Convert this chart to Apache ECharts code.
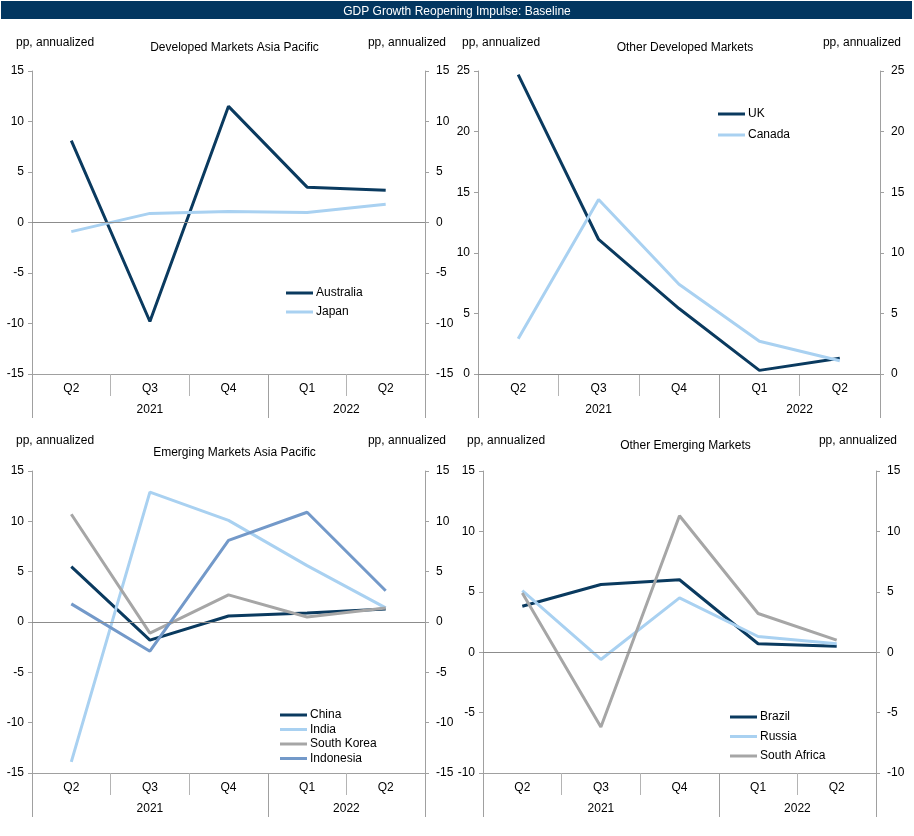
<!DOCTYPE html>
<html>
<head>
<meta charset="utf-8">
<title>GDP Growth Reopening Impulse: Baseline</title>
<script src="https://cdn.jsdelivr.net/npm/echarts@6/dist/echarts.min.js"></script>
<style>
    html, body { margin: 0; padding: 0; background: #fff; }
    #main { width: 914px; height: 836px; }
</style>
</head>
<body>
<div id="main"></div>
<script>
// x axis: quarters and the years they belong to
var quarters = ['Q2', 'Q3', 'Q4', 'Q1', 'Q2'];
var years = ['2021', '2022'];
var quartersPerYear = [3, 2];

// Developed Markets Asia Pacific
var australia = [8.1, -9.8, 11.5, 3.5, 3.2];
var japan = [-0.9, 0.9, 1.1, 1.0, 1.8];
var dmapRange = [-15, 15];

// Other Developed Markets
var uk = [24.7, 11.1, 5.4, 0.3, 1.3];
var canada = [2.9, 14.4, 7.4, 2.7, 1.1];
var odmRange = [0, 25];

// Emerging Markets Asia Pacific
var china = [5.5, -1.8, 0.6, 0.9, 1.3];
var india = [-13.9, 12.9, 10.1, 5.6, 1.4];
var southKorea = [10.7, -1.1, 2.7, 0.5, 1.4];
var indonesia = [1.8, -2.9, 8.1, 10.9, 3.1];
var emapRange = [-15, 15];

// Other Emerging Markets
var brazil = [3.8, 5.6, 6.0, 0.7, 0.5];
var russia = [5.1, -0.6, 4.5, 1.3, 0.7];
var southAfrica = [4.9, -6.2, 11.3, 3.2, 1.0];
var oemRange = [-10, 15];

var yStep = 5;

var navy = '#0a3a5f',
    lightBlue = '#a9d1f1',
    grey = '#a6a6a6',
    midBlue = '#7399c9',
    axisGrey = '#a0a0a0',
    font = "'Liberation Sans', Arial, sans-serif";

// year label positions (middle of each year) and year separators
var yearBounds = [0], yearMids = [];
(function () {
    var start = 0;
    for (var k = 0; k < quartersPerYear.length; k++) {
        yearMids.push(start + quartersPerYear[k] / 2);
        start += quartersPerYear[k];
        yearBounds.push(start);
    }
})();

var panels = [
    {
        title: 'Developed Markets Asia Pacific',
        grid: { left: 32, top: 71, width: 393, height: 303 },
        range: dmapRange,
        series: [['Australia', australia, navy], ['Japan', japan, lightBlue]],
        legend: { left: 286, top: 286, itemGap: 5 }
    },
    {
        title: 'Other Developed Markets',
        grid: { left: 478, top: 71, width: 402, height: 303 },
        range: odmRange,
        series: [['UK', uk, navy], ['Canada', canada, lightBlue]],
        legend: { left: 718, top: 107, itemGap: 7 }
    },
    {
        title: 'Emerging Markets Asia Pacific',
        grid: { left: 32, top: 471, width: 393, height: 302 },
        range: emapRange,
        series: [['China', china, navy], ['India', india, lightBlue],
                 ['South Korea', southKorea, grey], ['Indonesia', indonesia, midBlue]],
        legend: { left: 280, top: 708, itemGap: 0.5 }
    },
    {
        title: 'Other Emerging Markets',
        grid: { left: 483, top: 471, width: 393, height: 302 },
        range: oemRange,
        series: [['Brazil', brazil, navy], ['Russia', russia, lightBlue],
                 ['South Africa', southAfrica, grey]],
        legend: { left: 730, top: 710, itemGap: 5.5 }
    }
];

function textTitle(text, x, y, align, color) {
    return {
        text: text,
        left: x,
        top: y,
        padding: 0,
        textAlign: align,
        textStyle: { fontSize: 12, fontWeight: 'normal', color: color || '#000', fontFamily: font }
    };
}

function yAxisFor(gridIndex, range, side) {
    return {
        type: 'value',
        gridIndex: gridIndex,
        position: side,
        min: range[0],
        max: range[1],
        interval: yStep,
        axisLine: { show: true, onZero: false, lineStyle: { color: axisGrey, width: 1 } },
        axisTick: { show: true, inside: false, length: 4, lineStyle: { color: axisGrey } },
        axisLabel: { color: '#000', fontSize: 12, fontFamily: font, margin: side === 'left' ? 8 : 11 },
        splitLine: { show: false }
    };
}

var option = {
    animation: false,
    textStyle: { fontFamily: font },
    title: [textTitle('GDP Growth Reopening Impulse: Baseline', 457, 6, 'center', '#fff')],
    graphic: [{
        type: 'rect',
        z: -1,
        shape: { x: 1, y: 1, width: 911, height: 18 },
        style: { fill: '#023660' }
    }],
    grid: [],
    xAxis: [],
    yAxis: [],
    legend: [],
    series: []
};

panels.forEach(function (p, i) {
    var g = p.grid;
    var rowTop = i < 2 ? 37 : 435;
    var subTop = [42, 42, 447, 440][i];

    option.grid.push({ left: g.left, top: g.top, width: g.width, height: g.height });

    // subtitle and axis units
    option.title.push(textTitle(p.title, g.left + g.width / 2 + 6, subTop, 'center'));
    option.title.push(textTitle('pp, annualized', g.left - 16, rowTop, 'left'));
    option.title.push(textTitle('pp, annualized', g.left + g.width + 21, rowTop, 'right'));

    // quarters
    option.xAxis.push({
        type: 'category',
        gridIndex: i,
        data: quarters,
        position: 'bottom',
        boundaryGap: true,
        axisLine: { show: true, onZero: false, lineStyle: { color: axisGrey, width: 1 } },
        axisTick: { show: true, interval: 0, length: 22, lineStyle: { color: '#b4b4b4', width: 1 } },
        axisLabel: { color: '#000', fontSize: 12, fontFamily: font, margin: 9, interval: 0 },
        splitLine: { show: false }
    });
    // years
    option.xAxis.push({
        type: 'value',
        gridIndex: i,
        position: 'bottom',
        min: 0,
        max: quarters.length,
        axisLine: { show: false, onZero: false },
        axisTick: { show: true, length: 44, customValues: yearBounds, lineStyle: { color: axisGrey, width: 1 } },
        axisLabel: {
            color: '#000', fontSize: 12, fontFamily: font, margin: 30,
            customValues: yearMids,
            formatter: function (v) {
                var idx = yearMids.indexOf(v);
                return idx >= 0 ? years[idx] : '';
            }
        },
        splitLine: { show: false }
    });

    option.yAxis.push(yAxisFor(i, p.range, 'left'));
    option.yAxis.push(yAxisFor(i, p.range, 'right'));

    option.legend.push({
        left: p.legend.left,
        top: p.legend.top,
        padding: 0,
        orient: 'vertical',
        itemGap: p.legend.itemGap,
        itemWidth: 27,
        itemHeight: 3,
        icon: 'rect',
        textStyle: { fontSize: 12, color: '#000', fontFamily: font, lineHeight: 14, padding: [0, 0, 0, -2] },
        data: p.series.map(function (s) { return s[0]; })
    });

    p.series.forEach(function (s, k) {
        var line = {
            type: 'line',
            name: s[0],
            data: s[1],
            xAxisIndex: i * 2,
            yAxisIndex: i * 2,
            showSymbol: false,
            symbol: 'none',
            color: s[2],
            lineStyle: { color: s[2], width: 3 },
            emphasis: { disabled: true }
        };
        // zero line
        if (k === 0) {
            line.markLine = {
                silent: true,
                symbol: 'none',
                label: { show: false },
                lineStyle: { color: '#8c8c8c', width: 1, type: 'solid' },
                data: [{ yAxis: 0 }]
            };
        }
        option.series.push(line);
    });
});

var myChart = echarts.init(document.getElementById('main'));
myChart.setOption(option);
</script>
</body>
</html>
